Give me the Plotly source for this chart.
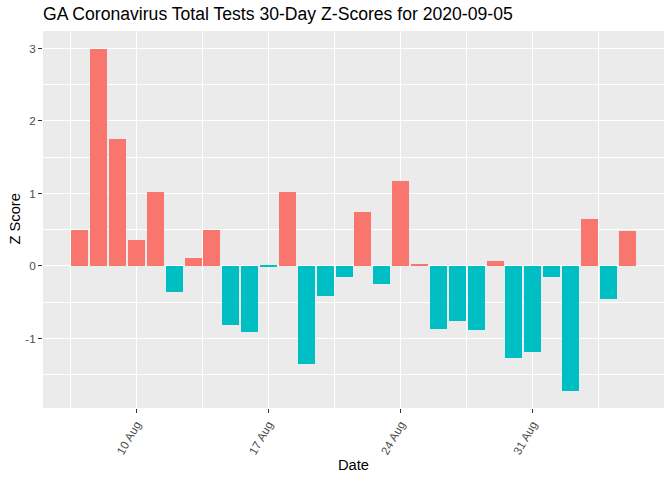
import plotly.graph_objects as go

dates = [
    "2020-08-07", "2020-08-08", "2020-08-09", "2020-08-10", "2020-08-11",
    "2020-08-12", "2020-08-13", "2020-08-14", "2020-08-15", "2020-08-16",
    "2020-08-17", "2020-08-18", "2020-08-19", "2020-08-20", "2020-08-21",
    "2020-08-22", "2020-08-23", "2020-08-24", "2020-08-25", "2020-08-26",
    "2020-08-27", "2020-08-28", "2020-08-29", "2020-08-30", "2020-08-31",
    "2020-09-01", "2020-09-02", "2020-09-03", "2020-09-04", "2020-09-05",
]
z_scores = [
    0.50, 2.99, 1.75, 0.36, 1.02,
    -0.36, 0.11, 0.50, -0.81, -0.91,
    -0.01, 1.02, -1.35, -0.41, -0.15,
    0.74, -0.25, 1.17, 0.03, -0.87,
    -0.76, -0.88, 0.07, -1.27, -1.19,
    -0.15, -1.72, 0.65, -0.455, 0.48,
]
tick_dates = ["2020-08-10", "2020-08-17", "2020-08-24", "2020-08-31"]
tick_labels = ["10 Aug", "17 Aug", "24 Aug", "31 Aug"]
y_ticks = [-1, 0, 1, 2, 3]
y_tick_labels = ["-1", "0", "1", "2", "3"]

POS = "#F8766D"
NEG = "#00BFC4"
colors = [POS if v > 0 else NEG for v in z_scores]

DAY_MS = 86400000
fig = go.Figure(go.Bar(
    x=dates, y=z_scores, marker=dict(color=colors, line=dict(width=0)),
    width=0.9 * DAY_MS, showlegend=False,
))

W, H = 672, 480
L, R, T, B = 43, 8, 31, 72
FONT = "Liberation Sans, Arial, sans-serif"
TICKC = "#4D4D4D"

fig.update_layout(
    width=W, height=H,
    margin=dict(l=L, r=R, t=T, b=B, autoexpand=False),
    paper_bgcolor="white", plot_bgcolor="#EBEBEB",
    font=dict(family=FONT, color="black"),
    bargap=0,
    title=dict(text="GA Coronavirus Total Tests 30-Day Z-Scores for 2020-09-05",
               x=0, xref="paper", xanchor="left",
               y=1 - 14 / H, yref="container", yanchor="middle",
               font=dict(size=17.6, color="black", family=FONT)),
    xaxis=dict(
        type="date",
        range=["2020-08-05 01:12", "2020-09-06 22:48"],
        tickmode="array", tickvals=tick_dates, ticktext=tick_labels,
        tickangle=-60, tickfont=dict(size=11.7, color=TICKC, family=FONT),
        ticks="outside", ticklen=4, tickwidth=1.1, tickcolor="#333333",
        showgrid=True, gridcolor="white", gridwidth=1.2,
        minor=dict(showgrid=True, gridcolor="white", gridwidth=0.6,
                   tick0="2020-08-06 12:00", dtick=7 * DAY_MS, ticks=""),
        zeroline=False, showline=False, automargin=False,
    ),
    yaxis=dict(
        range=[-1.96, 3.24],
        tickmode="array", tickvals=y_ticks, ticktext=y_tick_labels,
        tickfont=dict(size=11.7, color=TICKC, family=FONT),
        ticks="outside", ticklen=4, tickwidth=1.1, tickcolor="#333333",
        showgrid=True, gridcolor="white", gridwidth=1.2,
        minor=dict(showgrid=True, gridcolor="white", gridwidth=0.6,
                   tick0=-1.5, dtick=1, ticks=""),
        zeroline=False, showline=False, automargin=False,
    ),
    annotations=[
        dict(text="Date", xref="paper", yref="paper", x=0.5, y=(408 - 465) / 377,
             xanchor="center", yanchor="middle", showarrow=False,
             font=dict(size=14.7, color="black", family=FONT)),
        dict(text="Z Score", xref="paper", yref="paper", x=(14 - 43) / 621, y=0.5,
             xanchor="center", yanchor="middle", showarrow=False, textangle=-90,
             font=dict(size=14.7, color="black", family=FONT)),
    ],
)

# remove the browser's default 8px page margin so the figure sits at (0, 0)
fig.write_html("out.html", config={"displayModeBar": False},
               post_script="document.body.style.margin='0px';")
